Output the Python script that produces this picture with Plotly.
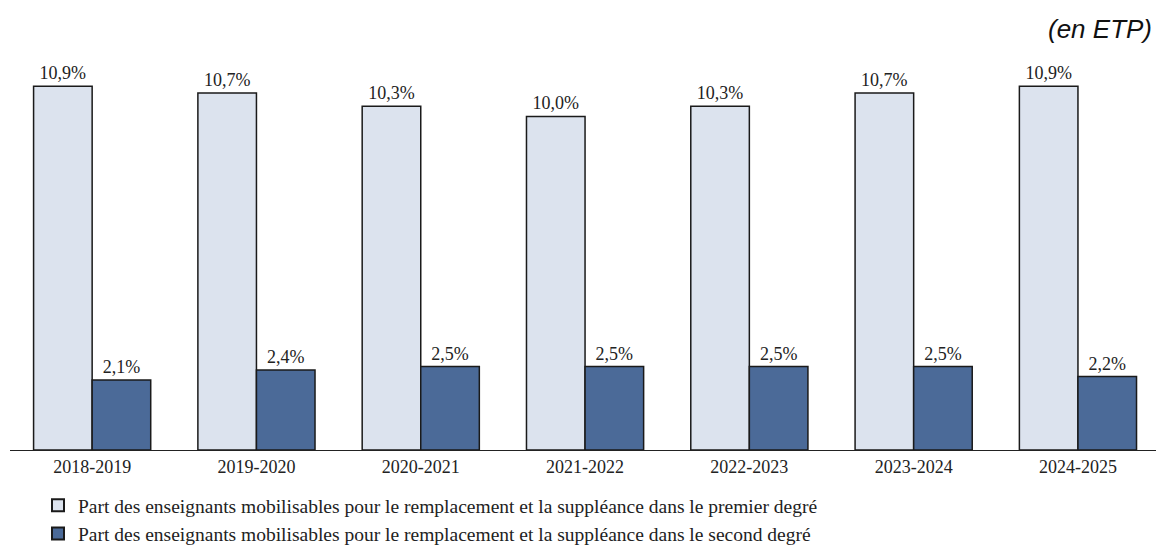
import plotly.graph_objects as go

years = ["2018-2019", "2019-2020", "2020-2021", "2021-2022", "2022-2023", "2023-2024", "2024-2025"]
premier = [10.9, 10.7, 10.3, 10.0, 10.3, 10.7, 10.9]
second = [2.1, 2.4, 2.5, 2.5, 2.5, 2.5, 2.2]
names = [
    "Part des enseignants mobilisables pour le remplacement et la suppléance dans le premier degré",
    "Part des enseignants mobilisables pour le remplacement et la suppléance dans le second degré",
]

SERIF = "Liberation Serif"
fig = go.Figure()
fig.add_trace(go.Bar(
    x=years, y=premier, name=names[0],
    marker=dict(color="#DCE3EE", line=dict(color="#1a1a1a", width=1.5)),
    texttemplate="%{y:.1f}%", textposition="outside", cliponaxis=False,
    textfont=dict(family=SERIF, size=18, color="#222"),
))
fig.add_trace(go.Bar(
    x=years, y=second, name=names[1],
    marker=dict(color="#4B6A98", line=dict(color="#1a1a1a", width=1.5)),
    texttemplate="%{y:.1f}%", textposition="outside", cliponaxis=False,
    textfont=dict(family=SERIF, size=18, color="#222"),
))

fig.update_layout(
    width=1156, height=548,
    margin=dict(l=10, r=0, t=60, b=98, autoexpand=False),
    paper_bgcolor="white", plot_bgcolor="white",
    barmode="group", bargap=0.287, bargroupgap=0,
    separators=", ",
    font=dict(family=SERIF, size=18, color="#222"),
    showlegend=True,
    legend=dict(
        x=(38 - 10) / 1146, y=-(486 - 450) / 390, xanchor="left", yanchor="top",
        orientation="v", font=dict(family=SERIF, size=19.5, color="#222"),
        tracegroupgap=0, itemsizing="constant",
        bgcolor="rgba(0,0,0,0)",
    ),
    xaxis=dict(
        range=[-0.5, 6.475], showline=True, linecolor="#222", linewidth=1.2,
        ticks="", showgrid=False, tickangle=0,
        tickfont=dict(family=SERIF, size=18, color="#222"),
    ),
    yaxis=dict(range=[0, 11.69], visible=False, showgrid=False),
    annotations=[dict(
        text="<i>(en ETP)</i>", xref="paper", yref="paper",
        x=1, y=1 + (60 - 29) / 390, xanchor="right", yanchor="middle", xshift=-2,
        showarrow=False, font=dict(family="Liberation Sans", size=26, color="#111"),
    )],
)

fig.write_html("out.html")
